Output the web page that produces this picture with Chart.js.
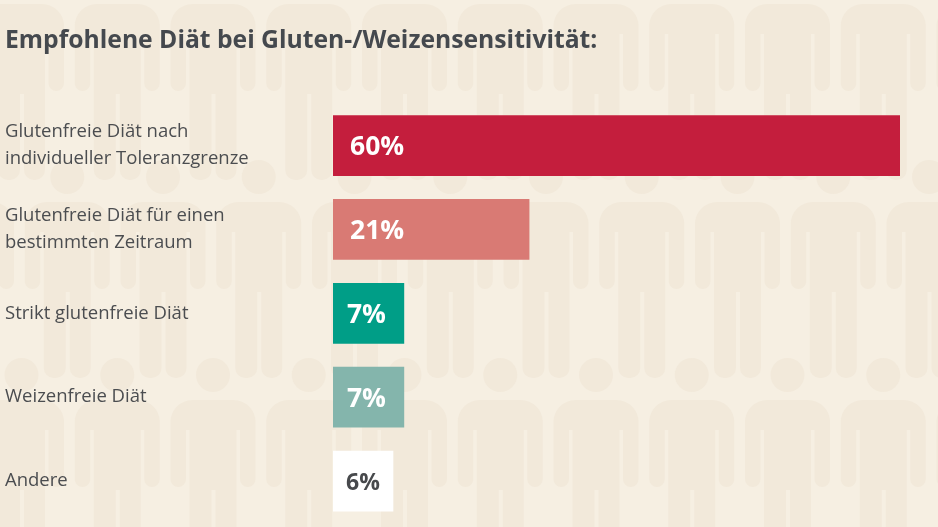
<!DOCTYPE html>
<html lang="de">
<head>
    <meta charset="UTF-8">
    <title>Empfohlene Diät bei Gluten-/Weizensensitivität</title>
    <script src="https://cdn.jsdelivr.net/npm/chart.js"></script>
    <style>
        body { margin: 0; padding: 0; background-color: #f6efe2; overflow: hidden; }
        canvas { display: block; }
    </style>
</head>
<body>
    <canvas id="dietChart" width="938" height="527"></canvas>

    <script>
        const titleText = 'Empfohlene Diät bei Gluten-/Weizensensitivität:';
        const categories = [
            ['Glutenfreie Diät nach', 'individueller Toleranzgrenze'],
            ['Glutenfreie Diät für einen', 'bestimmten Zeitraum'],
            'Strikt glutenfreie Diät',
            'Weizenfreie Diät',
            'Andere'
        ];
        // bar lengths, the printed labels are rounded
        const barValues = [60, 20.75, 7.5, 7.5, 6.35];
        const valueLabels = ['60%', '21%', '7%', '7%', '6%'];
        const barColors = ['#c41e3d', '#d97a74', '#009e87', '#84b5ac', '#ffffff'];
        const labelColors = ['#ffffff', '#ffffff', '#ffffff', '#ffffff', '#47494c'];

        // background of little people, drawn behind the chart
        function drawPerson(ctx, x, y) {
            ctx.beginPath();
            ctx.arc(x + 42.5, y - 25, 17, 0, Math.PI * 2);
            ctx.fill();
            ctx.beginPath();
            ctx.roundRect(x, y, 85, 30, [22, 22, 0, 0]);
            ctx.roundRect(x, y + 20, 15.5, 67, [0, 0, 8, 8]);
            ctx.roundRect(x + 69.5, y + 20, 15.5, 67, [0, 0, 8, 8]);
            ctx.rect(x + 19, y + 20, 47, 70);
            ctx.roundRect(x + 19, y + 85, 22, 91, [0, 0, 10, 10]);
            ctx.roundRect(x + 45, y + 85, 21, 91, [0, 0, 10, 10]);
            ctx.fill();
        }

        const backgroundPlugin = {
            id: 'peopleBackground',
            beforeDraw(chart) {
                const ctx = chart.ctx;
                ctx.save();
                ctx.fillStyle = '#f6efe2';
                ctx.fillRect(0, 0, chart.width, chart.height);
                ctx.fillStyle = '#f2e9da';
                [[4, -21], [202, -71], [400, -21]].forEach(function (row) {
                    for (let i = 0; i < 11; i++) {
                        drawPerson(ctx, row[1] + i * 95.75, row[0]);
                    }
                });
                ctx.restore();
            }
        };

        const valueLabelPlugin = {
            id: 'valueLabels',
            afterDatasetsDraw(chart) {
                const ctx = chart.ctx;
                ctx.save();
                ctx.textBaseline = 'middle';
                chart.getDatasetMeta(0).data.forEach(function (bar, i) {
                    const wide = bar.x - bar.base > 100;
                    // the label on the white bar is a bit smaller in the original
                    ctx.font = 'bold ' + (i === 4 ? 23 : 26.5) + 'px "Open Sans", sans-serif';
                    ctx.fillStyle = labelColors[i];
                    ctx.textAlign = wide ? 'left' : 'center';
                    const x = wide ? bar.base + 17 : (bar.base + bar.x) / 2 - (i < 4 ? 2 : 0);
                    ctx.fillText(valueLabels[i], x, bar.y + 2);
                });
                ctx.restore();
            }
        };

        new Chart(document.getElementById('dietChart').getContext('2d'), {
            type: 'bar',
            data: {
                labels: categories,
                datasets: [{
                    data: barValues,
                    backgroundColor: barColors,
                    barThickness: 60
                }]
            },
            options: {
                indexAxis: 'y',
                responsive: false,
                animation: false,
                layout: { autoPadding: false, padding: { left: 5, right: 38, top: 26, bottom: 4 } },
                scales: {
                    x: { display: false, min: 0, max: 60 },
                    y: {
                        afterFit: function (scale) {
                            scale.width = 328;
                            // the two line label would otherwise squeeze the bars together
                            scale.paddingTop = 0;
                            scale.paddingBottom = 0;
                        },
                        border: { display: false },
                        grid: { display: false },
                        ticks: {
                            crossAlign: 'far',
                            padding: 0,
                            color: '#4b4d50',
                            font: { family: '"Open Sans", sans-serif', size: 18.5, lineHeight: 1.45 }
                        }
                    }
                },
                plugins: {
                    legend: { display: false },
                    tooltip: { enabled: false },
                    title: {
                        display: true,
                        text: titleText,
                        align: 'start',
                        color: '#45494e',
                        font: { family: '"Open Sans", sans-serif', size: 24.7, weight: 'bold' },
                        padding: { top: 0, bottom: 48 }
                    }
                }
            },
            plugins: [backgroundPlugin, valueLabelPlugin]
        });
    </script>
</body>
</html>
